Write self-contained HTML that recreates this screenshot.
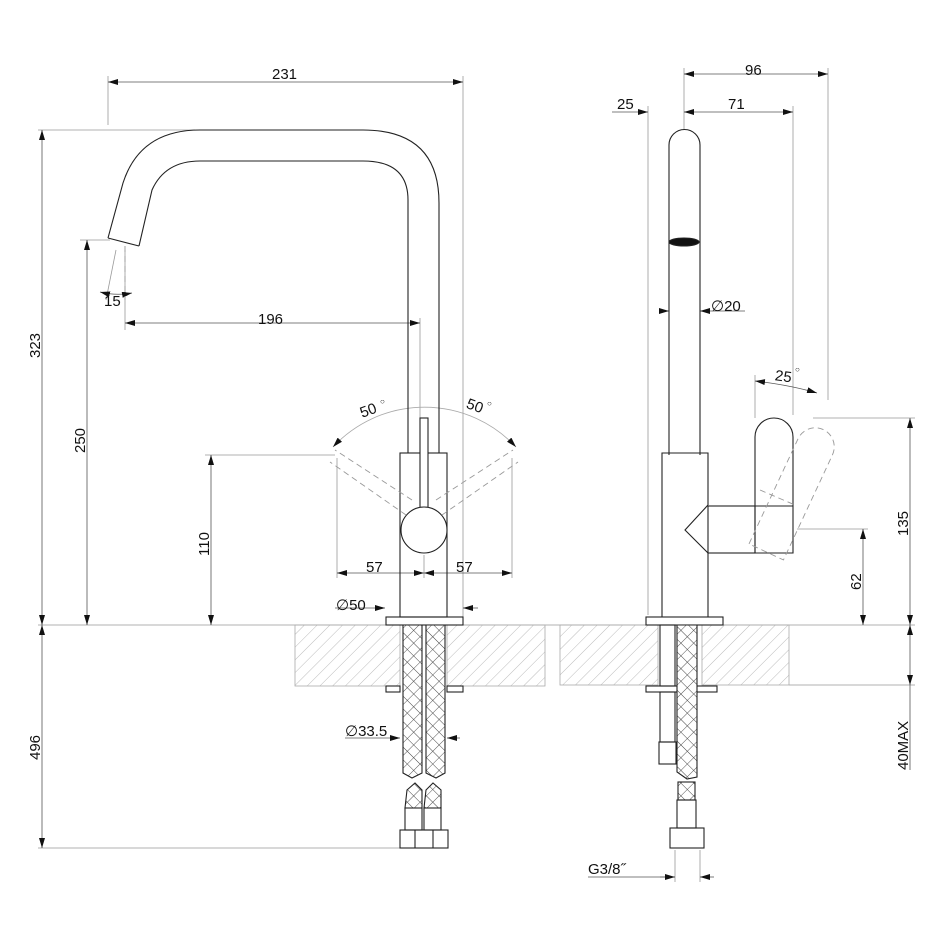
<!DOCTYPE html>
<html><head><meta charset="utf-8"><style>html,body{margin:0;padding:0;background:#fff}svg{display:block}text{font-family:"Liberation Sans",sans-serif;font-size:15px;fill:#111}</style></head><body>
<svg width="940" height="940" viewBox="0 0 940 940" xmlns="http://www.w3.org/2000/svg">
<defs>
<pattern id="h" width="9" height="9" patternUnits="userSpaceOnUse" patternTransform="rotate(45)"><line x1="0" y1="0" x2="0" y2="9" stroke="#bbb" stroke-width="1"/></pattern>
<pattern id="br" width="9" height="9" patternUnits="userSpaceOnUse" patternTransform="rotate(45)"><rect width="9" height="9" fill="#fff"/><path d="M0 0H9M0 0V9" stroke="#444" stroke-width="0.9"/></pattern>
<marker id="a" viewBox="0 0 10 6" refX="10" refY="3" markerWidth="10" markerHeight="6" orient="auto-start-reverse" markerUnits="userSpaceOnUse"><path d="M0 0L10 3L0 6z" fill="#111"/></marker>
</defs>
<g stroke="#999" stroke-width="0.8" fill="none">
<line x1="108" y1="76" x2="108" y2="125"/><line x1="463" y1="76" x2="463" y2="620"/>
<line x1="38" y1="130" x2="195" y2="130"/>
<line x1="38" y1="625" x2="915" y2="625"/>
<line x1="38" y1="848" x2="410" y2="848"/>
<line x1="80" y1="240" x2="110" y2="240"/>
<line x1="205" y1="455" x2="335" y2="455"/>
<line x1="125" y1="250" x2="125" y2="330"/>
<line x1="420" y1="318" x2="420" y2="420"/>
<line x1="337" y1="458" x2="337" y2="578"/><line x1="512" y1="458" x2="512" y2="578"/>
<line x1="424" y1="555" x2="424" y2="578"/>
<line x1="116" y1="250" x2="106" y2="300"/>
<line x1="684" y1="68" x2="684" y2="130"/><line x1="828" y1="68" x2="828" y2="400"/>
<line x1="648" y1="106" x2="648" y2="615"/><line x1="793" y1="106" x2="793" y2="415"/>
<line x1="813" y1="418" x2="915" y2="418"/>
<line x1="797" y1="529" x2="868" y2="529"/>
<line x1="789" y1="685" x2="915" y2="685"/>
<line x1="755" y1="375" x2="755" y2="418"/>
<line x1="675" y1="850" x2="675" y2="882"/><line x1="700" y1="850" x2="700" y2="882"/>
</g>
<g stroke="#555" stroke-width="0.8" fill="none">
<line x1="108" y1="82" x2="463" y2="82" marker-start="url(#a)" marker-end="url(#a)"/>
<line x1="42" y1="130" x2="42" y2="625" marker-start="url(#a)" marker-end="url(#a)"/>
<line x1="42" y1="625" x2="42" y2="848" marker-start="url(#a)" marker-end="url(#a)"/>
<line x1="87" y1="240" x2="87" y2="625" marker-start="url(#a)" marker-end="url(#a)"/>
<line x1="211" y1="455" x2="211" y2="625" marker-start="url(#a)" marker-end="url(#a)"/>
<line x1="125" y1="323" x2="420" y2="323" marker-start="url(#a)" marker-end="url(#a)"/>
<line x1="337" y1="573" x2="424" y2="573" marker-start="url(#a)" marker-end="url(#a)"/>
<line x1="424" y1="573" x2="512" y2="573" marker-start="url(#a)" marker-end="url(#a)"/>
<line x1="335" y1="608" x2="385" y2="608" marker-end="url(#a)"/>
<line x1="478" y1="608" x2="463" y2="608" marker-end="url(#a)"/>
<line x1="345" y1="738" x2="400" y2="738" marker-end="url(#a)"/>
<line x1="460" y1="738" x2="447" y2="738" marker-end="url(#a)"/>
<path d="M333 447 A125 125 0 0 1 516 447" stroke="#aaa" marker-start="url(#a)" marker-end="url(#a)"/>
<path d="M100 292 Q116 296 132 293" marker-start="url(#a)" marker-end="url(#a)"/>
<line x1="684" y1="74" x2="828" y2="74" marker-start="url(#a)" marker-end="url(#a)"/>
<line x1="612" y1="112" x2="648" y2="112" marker-end="url(#a)"/>
<line x1="684" y1="112" x2="793" y2="112" marker-start="url(#a)" marker-end="url(#a)"/>
<line x1="660" y1="311" x2="669" y2="311" marker-end="url(#a)"/>
<line x1="745" y1="311" x2="700" y2="311" marker-end="url(#a)"/>
<path d="M755 381 Q790 385 817 393" marker-start="url(#a)" marker-end="url(#a)"/>
<line x1="910" y1="418" x2="910" y2="625" marker-start="url(#a)" marker-end="url(#a)"/>
<line x1="863" y1="529" x2="863" y2="625" marker-start="url(#a)" marker-end="url(#a)"/>
<line x1="910" y1="625" x2="910" y2="685" marker-start="url(#a)" marker-end="url(#a)"/>
<line x1="910" y1="685" x2="910" y2="770"/>
<line x1="588" y1="877" x2="675" y2="877"/>
<line x1="660" y1="877" x2="675" y2="877" marker-end="url(#a)"/>
<line x1="714" y1="877" x2="700" y2="877" marker-end="url(#a)"/>
</g>
<rect x="295" y="625" width="105" height="61" fill="url(#h)" stroke="#aaa" stroke-width="0.8"/>
<rect x="447" y="625" width="98" height="61" fill="url(#h)" stroke="#aaa" stroke-width="0.8"/>
<rect x="560" y="625" width="98" height="60" fill="url(#h)" stroke="#aaa" stroke-width="0.8"/>
<rect x="702" y="625" width="87" height="60" fill="url(#h)" stroke="#aaa" stroke-width="0.8"/>
<g stroke="#222" stroke-width="1.1" fill="none">
<path d="M108 238 L123 183 Q140 130 200 130 L363 130 Q439 130 439 203 L439 453"/>
<path d="M139 246 L152 190 Q165 161 200 161 L363 161 Q408 161 408 200 L408 453"/>
<path d="M108 238 L139 246"/>
<rect x="400" y="453" width="47" height="164"/>
<rect x="386" y="617" width="77" height="8"/>
<rect x="420" y="418" width="8" height="90" fill="#fff"/>
<circle cx="424" cy="530" r="23" fill="#fff"/>
<path d="M403 625 H422 V773 L412 778 L403 773 Z" fill="url(#br)"/>
<path d="M426 625 H445 V773 L436 778 L426 773 Z" fill="url(#br)"/>
<rect x="386" y="686" width="14" height="6"/><rect x="447" y="686" width="16" height="6"/>
<path d="M407 790 L415 783 L422 790 L422 808 L405 808Z" fill="url(#br)"/>
<path d="M426 790 L433 783 L441 790 L441 808 L424 808Z" fill="url(#br)"/>
<rect x="405" y="808" width="17" height="22"/><rect x="424" y="808" width="17" height="22"/>
<rect x="400" y="830" width="48" height="18"/><line x1="415" y1="830" x2="415" y2="848"/><line x1="433" y1="830" x2="433" y2="848"/>
<path d="M669 455 L669 145 A15.5 15.5 0 0 1 700 145 L700 455"/>
<ellipse cx="684" cy="242" rx="15" ry="4" fill="#111"/>
<path d="M662 617 L662 453 L708 453 L708 505 M708 553 L708 617"/>
<path d="M708 505 L685 530 L708 553"/>
<rect x="708" y="506" width="47" height="47"/>
<path d="M755 553 L755 437 A19 19 0 0 1 793 437 L793 553 Z"/>
<line x1="755" y1="506" x2="793" y2="506"/>
<rect x="646" y="617" width="77" height="8"/>
<rect x="646" y="686" width="71" height="6"/>
<rect x="660" y="625" width="15" height="61"/>
<path d="M677 625 H697 V777 L687 779 L677 772 Z" fill="url(#br)"/>
<rect x="660" y="692" width="15" height="50"/><rect x="659" y="742" width="17" height="22"/>
<rect x="678" y="782" width="17" height="18" fill="url(#br)"/>
<rect x="677" y="800" width="19" height="28"/>
<rect x="670" y="828" width="34" height="20"/>
</g>
<g stroke="#999" stroke-width="0.9" fill="none" stroke-dasharray="6 4">
<line x1="412" y1="500" x2="335" y2="450"/><line x1="406" y1="515" x2="330" y2="462"/>
<line x1="436" y1="500" x2="513" y2="450"/><line x1="442" y1="515" x2="518" y2="462"/>
<line x1="125" y1="246" x2="125" y2="300"/>
<g transform="translate(-12 -6) rotate(25 765 565)">
<path d="M755 553 L755 437 A19 19 0 0 1 793 437 L793 553 Z"/>
</g>
<line x1="760" y1="490" x2="795" y2="505"/>
</g>
<text x="272" y="79">231</text>
<text x="258" y="324">196</text>
<text x="104" y="306">15</text><text x="122" y="296" style="font-size:8px">○</text>
<text x="360" y="414" transform="rotate(-20 372 410)">50</text><text x="380" y="404" style="font-size:8px">○</text>
<text x="466" y="412" transform="rotate(20 478 408)">50</text><text x="487" y="406" style="font-size:8px">○</text>
<text x="366" y="572">57</text><text x="456" y="572">57</text>
<text x="336" y="610">∅50</text>
<text x="345" y="736">∅33.5</text>
<text transform="translate(40 358) rotate(-90)">323</text>
<text transform="translate(40 760) rotate(-90)">496</text>
<text transform="translate(85 453) rotate(-90)">250</text>
<text transform="translate(209 556) rotate(-90)">110</text>
<text x="745" y="75">96</text>
<text x="617" y="109">25</text>
<text x="728" y="109">71</text>
<text x="711" y="311">∅20</text>
<text x="775" y="382" transform="rotate(8 788 377)">25</text><text x="795" y="372" style="font-size:8px">○</text>
<text transform="translate(908 536) rotate(-90)">135</text>
<text transform="translate(861 590) rotate(-90)">62</text>
<text transform="translate(908 770) rotate(-90)">40MAX</text>
<text x="588" y="874">G3/8˝</text>
</svg>
</body></html>
